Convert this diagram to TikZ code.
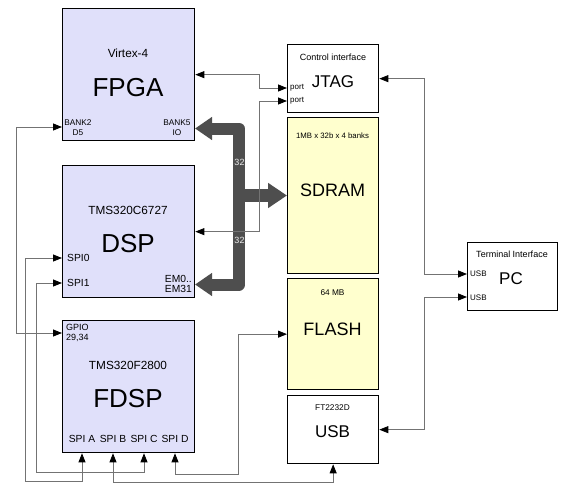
\documentclass[tikz,border=0pt]{standalone}
\usepackage{fontspec}
\setmainfont{Liberation Sans}
\usetikzlibrary{arrows.meta}
\definecolor{lav}{RGB}{224,224,250}
\definecolor{ylw}{RGB}{255,255,206}
\definecolor{busc}{RGB}{78,78,78}
\definecolor{wirec}{RGB}{115,115,115}
\newcommand{\fsz}[2]{\fontsize{#1}{#2}\selectfont}
\begin{document}
\begin{tikzpicture}[x=1pt,y=-1pt,
  box/.style={draw=black,line width=1.3pt,inner sep=0pt,anchor=north west},
  chip/.style={box,fill=lav,minimum width=132pt,minimum height=132pt},
  mem/.style={box,fill=ylw,minimum width=91pt},
  wbox/.style={box,fill=white,minimum width=91pt,minimum height=68pt},
  big/.style={font=\fsz{26}{30}},
  mid/.style={font=\fsz{17.5}{20}},
  sub/.style={font=\fsz{11.8}{14}},
  small/.style={font=\fsz{9}{11}},
  tiny/.style={font=\fsz{8}{10},inner sep=0pt},
  pin/.style={font=\fsz{10.3}{11},inner sep=0pt},
  wt/.tip={Triangle[length=9pt,width=7pt,color=black]},
  wire/.style={draw=wirec,line width=0.8pt,wt-wt},
  bt/.tip={Triangle[length=17pt,width=22pt]},
  bus/.style={draw=busc,line width=12pt,line join=round,bt-bt},
  buslab/.style={font=\fsz{9}{10},inner sep=0pt,text=white!85!gray},
]
\useasboundingbox (0,0) rectangle (569,492);
\fill[white] (0,0) rectangle (569,492);

% boxes
\node[chip] (fpga) at (62,8) {};
\node[chip] (dsp) at (62,165) {};
\node[chip] (fdsp) at (62,320) {};
\node[wbox] (jtag) at (287,44) {};
\node[mem,minimum height=156pt] (sdram) at (287,117) {};
\node[mem,minimum height=111pt] (flash) at (287,278) {};
\node[wbox] (usb) at (287,395) {};
\node[wbox,minimum width=90pt] (pc) at (467,242) {};

% bus
\coordinate (b5) at (195,128.5);
\coordinate (em) at (195,284.5);
\draw[bus] (b5) -- (239,128.5) -- (239,284.5) -- (em);
\coordinate (bmid) at (236,195.5);
\draw[draw=busc,line width=13pt,-{Triangle[length=19pt,width=24pt]}] (bmid) -- (sdram.west |- bmid);
\node[buslab] (n32a) at (239.5,162) {32};
\node[buslab] (n32b) at (239.5,240) {32};

% FPGA texts
\node[sub] (fpgasub) at (128,53) {Virtex-4};
\node[big] (fpgat) at (128,88) {FPGA};
\node[tiny,align=center,font=\fsz{8.3}{10}] (bank2) at (78,128) {BANK2\\D5};
\node[tiny,align=center,font=\fsz{8.3}{10}] (bank5) at (177,128) {BANK5\\IO};

% DSP texts
\node[sub] (dspsub) at (128,210) {TMS320C6727};
\node[big] (dspt) at (128,244) {DSP};
\node[pin,anchor=west] (spi0) at (67,258) {SPI0};
\node[pin,anchor=west] (spi1) at (67,283) {SPI1};
\node[pin,align=left,anchor=east,font=\fsz{10.3}{10}] (emlab) at (192,284) {EM0..\\EM31};

% FDSP texts
\node[pin,align=left,anchor=west,font=\fsz{9}{10}] (gpio) at (66,333) {GPIO\\29,34};
\node[sub] (fdspsub) at (128,365) {TMS320F2800};
\node[big] (fdspt) at (128,399) {FDSP};
\node[pin] (spa) at (82,439) {SPI A};
\node[pin] (spb) at (113,439) {SPI B};
\node[pin] (spc) at (144,439) {SPI C};
\node[pin] (spd) at (175,439) {SPI D};

% JTAG texts
\node[small] (jtagsub) at (333,57) {Control interface};
\node[mid,font=\fsz{17}{20}] (jtagt) at (333,82) {JTAG};
\node[tiny,anchor=west] (port1) at (290,88) {port};
\node[tiny,anchor=west] (port2) at (290,101) {port};

% memories
\node[tiny,font=\fsz{7.8}{9}] (sdramsub) at (332.5,136) {1MB x 32b x 4 banks};
\node[mid,font=\fsz{18}{20}] (sdramt) at (332.5,190) {SDRAM};
\node[tiny,font=\fsz{8.3}{9}] (flashsub) at (332.5,293) {64 MB};
\node[mid,font=\fsz{18}{20}] (flasht) at (332.5,329) {FLASH};

% USB texts
\node[tiny,font=\fsz{8.3}{9}] (usbsub) at (332.5,408) {FT2232D};
\node[mid,font=\fsz{17}{20}] (usbt) at (332.5,432) {USB};

% PC texts
\node[small] (pcsub) at (512,254) {Terminal Interface};
\node[mid,font=\fsz{17}{20}] (pct) at (511,279) {PC};
\node[tiny,anchor=west] (pcu1lab) at (470,274) {USB};
\node[tiny,anchor=west] (pcu2lab) at (470,298) {USB};

% connector end points
\coordinate (fb2) at (62,127);
\coordinate (fgpio) at (62,333);
\coordinate (jp1) at (287,88);
\coordinate (jp2) at (287,101);
\coordinate (pu1) at (467,274);
\coordinate (pu2) at (467,297);
\coordinate (dsp0) at (62,258);
\coordinate (dsp1) at (62,283);

% wires
\draw[wire] (fpga.east) -- ++(64,0) |- (jp1);
\draw[wire] (dsp.east) -- ++(64,0) |- (jp2);
\draw[wire] (jtag.east) -- ++(45,0) |- (pu1);
\draw[wire] (usb.east) -- ++(45,0) |- (pu2);
\draw[wire] (fb2) -- ++(-46,0) |- (fgpio);
\draw[wire] (dsp0) -- ++(-37,0) -- ++(0,223) -| (spa |- fdsp.south);
\draw[wire] (dsp1) -- ++(-26,0) -- ++(0,189) -| (spc |- fdsp.south);
\draw[wire] (spb |- fdsp.south) -- ++(0,29) -| (usb.south);
\draw[wire] (spd |- fdsp.south) -- ++(0,21) -- ++(63,0) |- (flash.west);
\end{tikzpicture}
\end{document}
